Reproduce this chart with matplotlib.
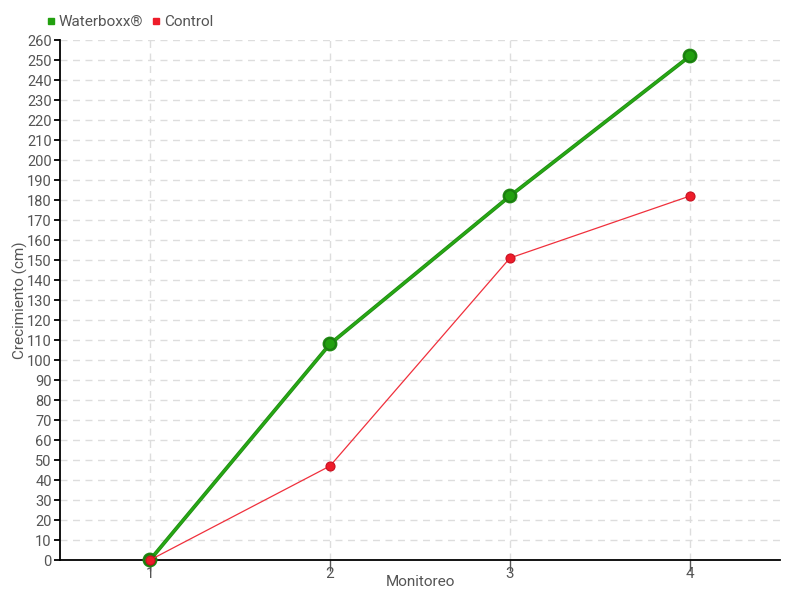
import matplotlib
matplotlib.use("Agg")
import matplotlib.pyplot as plt
import matplotlib.patheffects as pe
from matplotlib.lines import Line2D

# data
monitoreo = [1, 2, 3, 4]
waterboxx = [0, 108, 182, 252]
control = [0, 47, 151, 182]
y_ticks = list(range(0, 261, 10))

plt.rcParams['font.family'] = ['Roboto', 'DejaVu Sans']
txt = '#555555'

fig = plt.figure(figsize=(8, 6), dpi=100)
ax = fig.add_axes([60 / 800, 40 / 600, 720 / 800, 520 / 600])

ax.plot(monitoreo, waterboxx, color='#27a814', lw=1.6, marker='o', ms=8,
        mfc='#22a00f', mec='#1a7a10', mew=1, zorder=3, clip_on=False,
        path_effects=[pe.Stroke(linewidth=2.7, foreground='#1f8a12'), pe.Normal()])
ax.plot(monitoreo, control, color='#f0303c', lw=0.9, marker='o', ms=6.5,
        mfc='#ee1c2a', mec='#c81020', mew=0.8, zorder=4, clip_on=False)

ax.set_xlim(0.5, 4.5)
ax.set_ylim(0, 260)
ax.set_xticks(monitoreo)
ax.set_yticks(y_ticks)
ax.grid(True, color='#dddddd', linestyle=(0, (5, 4)), lw=1)
ax.set_axisbelow(True)

for s in ['top', 'right']:
    ax.spines[s].set_visible(False)
for s in ['left', 'bottom']:
    ax.spines[s].set_linewidth(1.3)
    ax.spines[s].set_color('black')

ax.tick_params(axis='y', direction='out', length=4, width=1.3, labelsize=10.5,
               labelcolor=txt, pad=2)
ax.tick_params(axis='x', direction='out', length=8, width=1, color='#555555',
               labelsize=11, labelcolor=txt, pad=-3)

ax.set_xlabel('Monitoreo', fontsize=11, color=txt)
ax.set_ylabel('Crecimiento (cm)', fontsize=11, color=txt)
ax.xaxis.set_label_coords(0.5, -22 / 520, transform=ax.transAxes)
ax.yaxis.set_label_coords(-40 / 720, 0.5, transform=ax.transAxes)
ax.xaxis.label.set_va('center')
ax.yaxis.label.set_va('center')

handles = [
    Line2D([], [], ls='none', marker='s', ms=5, color='#22a00f'),
    Line2D([], [], ls='none', marker='s', ms=5, color='#ee1c2a'),
]
fig.legend(handles, ['Waterboxx®', 'Control'], loc='upper left',
           bbox_to_anchor=(46 / 800, 1 - 15 / 600), ncol=2, frameon=False,
           fontsize=11, labelcolor=txt, handlelength=0.6, handletextpad=0.2,
           columnspacing=0.6, borderpad=0, borderaxespad=0)

fig.savefig('out.png', dpi=100)
